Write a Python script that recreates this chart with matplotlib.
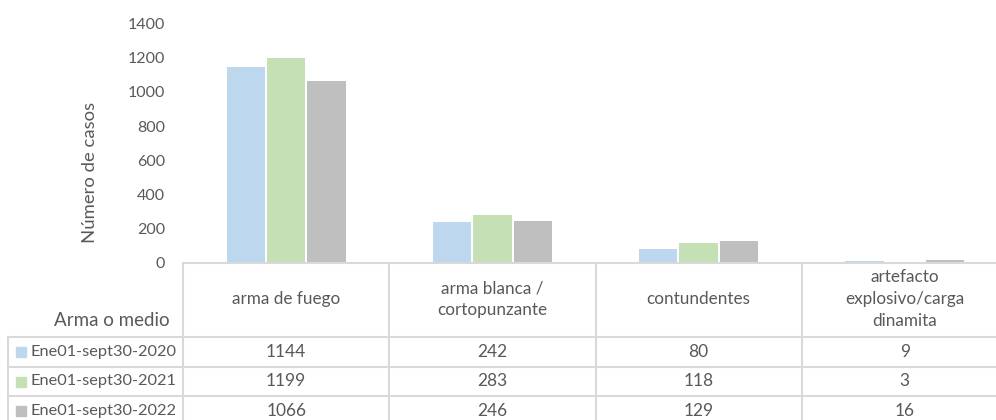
import matplotlib
matplotlib.use("Agg")
import matplotlib.pyplot as plt
import matplotlib.transforms as mtransforms
from matplotlib.lines import Line2D
from matplotlib.patches import Rectangle
import numpy as np

categories = ["arma de fuego", "arma blanca /\ncortopunzante", "contundentes",
              "artefacto\nexplosivo/carga\ndinamita"]
series_names = ["Ene01-sept30-2020", "Ene01-sept30-2021", "Ene01-sept30-2022"]
v2020 = [1144, 242, 80, 9]
v2021 = [1199, 283, 118, 3]
v2022 = [1066, 246, 129, 16]
yticks = [0, 200, 400, 600, 800, 1000, 1200, 1400]
colors = ["#BDD7EE", "#C5E0B4", "#BFBFBF"]
values = [v2020, v2021, v2022]

W, H = 996, 420
TXT = "#595959"
GRID = "#D9D9D9"
FONT = "Lato"

def fy(py):
    return 1 - py / H

def fx(px):
    return px / W

fig = plt.figure(figsize=(W / 100, H / 100), dpi=100)
ax = fig.add_axes([fx(183), fy(263), fx(1008) - fx(183), fy(23.5) - fy(263)])

x = np.arange(len(categories))
step = 0.196
bw = 0.186
for i, (vals, c) in enumerate(zip(values, colors)):
    ax.bar(x + (i - 1) * step, vals, width=bw, color=c, linewidth=0)

ax.set_xlim(-0.5, len(categories) - 0.5)
ax.set_ylim(0, 1400)
ax.set_yticks(yticks)
ax.set_yticklabels([str(t) for t in yticks], fontsize=11.5, color=TXT, fontfamily=FONT)
ax.tick_params(axis="y", length=0, pad=13)
ax.set_xticks([])
for s in ["left", "right", "top"]:
    ax.spines[s].set_visible(False)
ax.spines["bottom"].set_color(GRID)
ax.spines["bottom"].set_linewidth(1.5)

fig.text(fx(90), fy(172), "Número de casos", rotation=90, ha="center", va="center",
         fontsize=13.3, color=TXT, fontfamily=FONT)

# data table
blend = mtransforms.blended_transform_factory(ax.transData, fig.transFigure)
row_lines = [337, 367, 396]
row_centers = [352, 381.5, 410.5]
lw = 1.5
for ry in row_lines:
    fig.add_artist(Line2D([fx(8), 1.0], [fy(ry), fy(ry)], color=GRID, lw=lw))
fig.add_artist(Line2D([fx(8), fx(8)], [fy(337), fy(425)], color=GRID, lw=lw))
for b in np.arange(len(categories) + 1) - 0.5:
    fig.add_artist(Line2D([b, b], [fy(263), fy(425)], color=GRID, lw=lw,
                          transform=blend, clip_on=False))

for xi, cat in zip(x, categories):
    fig.text(xi, fy(299), cat, transform=blend, ha="center", va="center",
             fontsize=12.3, color=TXT, fontfamily=FONT, linespacing=1.45)
fig.text(fx(170), fy(320), "Arma o medio", ha="right", va="center",
         fontsize=13.5, color=TXT, fontfamily=FONT)

for name, vals, c, ry in zip(series_names, values, colors, row_centers):
    fig.add_artist(Rectangle((fx(16), fy(ry + 5)), fx(10), fy(ry - 5) - fy(ry + 5),
                             transform=fig.transFigure, color=c))
    fig.text(fx(30), fy(ry), name, ha="left", va="center", fontsize=11.8,
             color=TXT, fontfamily=FONT)
    for xi, v in zip(x, vals):
        fig.text(xi, fy(ry), str(v), transform=blend, ha="center", va="center",
                 fontsize=12.5, color=TXT, fontfamily=FONT)

fig.savefig("out.png", dpi=100)
